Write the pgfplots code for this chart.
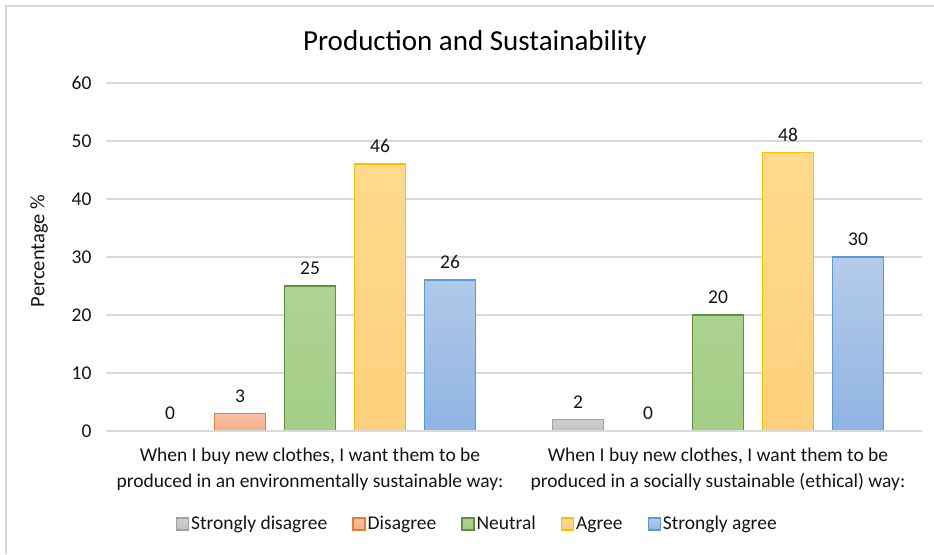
\documentclass[border=0pt]{standalone}
\usepackage{pgfplots}
\pgfplotsset{compat=1.18}
\usepackage{fontspec}
\setmainfont{Carlito}

% series colours (fill top, fill bottom, edge)
\definecolor{sdTop}{HTML}{D0D0D0}\definecolor{sdBot}{HTML}{C0C0C0}\definecolor{sdEdge}{HTML}{A0A0A0}
\definecolor{dTop}{HTML}{F8C3A6}\definecolor{dBot}{HTML}{F3AC8A}\definecolor{dEdge}{HTML}{ED7D31}
\definecolor{nTop}{HTML}{ADD491}\definecolor{nBot}{HTML}{A4CD87}\definecolor{nEdge}{HTML}{5E9140}
\definecolor{aTop}{HTML}{FFDA8E}\definecolor{aBot}{HTML}{FDD17C}\definecolor{aEdge}{HTML}{FFC000}
\definecolor{saTop}{HTML}{B5CCE9}\definecolor{saBot}{HTML}{8FB4E2}\definecolor{saEdge}{HTML}{5B9BD5}
\definecolor{gridgray}{HTML}{D9D9D9}
\definecolor{txt}{HTML}{141414}

\newcommand{\lblfont}{\fontsize{19.5}{26}\selectfont}

\begin{document}
\begin{tikzpicture}[x=1pt,y=1pt]
\useasboundingbox (0,0) rectangle (934,554);
% chart frame (top and left edges)
\draw[gridgray, line width=1.6pt] (6,0) -- (6,548) -- (934,548);

\begin{axis}[
  at={(106pt,123pt)}, anchor=south west,
  scale only axis, width=816pt, height=348pt,
  xmin=-0.5, xmax=1.5, ymin=0, ymax=60,
  ybar=19pt, bar width=51pt,
  xtick={0,1},
  xticklabels={{When I buy new clothes, I want them to be\\produced in an environmentally sustainable way:},
               {When I buy new clothes, I want them to be\\produced in a socially sustainable (ethical) way:}},
  xticklabel style={align=center, font=\lblfont, text=txt, yshift=-13pt},
  ytick={0,10,...,60},
  yticklabel style={font=\lblfont, text=txt, xshift=-11pt},
  /pgf/number format/assume math mode=true,
  major tick length=0pt,
  axis line style={draw=none},
  ymajorgrids, grid style={gridgray, line width=1.3pt},
  ylabel={Percentage \%},
  ylabel style={font=\fontsize{20.5}{24}\selectfont, text=txt, at={(axis description cs:-0.082,0.517)}, anchor=center},
  title={Production and Sustainability},
  title style={font=\fontsize{29}{32}\selectfont, text=black, at={(axis description cs:0.452,1.098)}, anchor=center},
  nodes near coords,
  every node near coord/.append style={font=\lblfont, text=txt, yshift=7pt},
  legend columns=5,
  legend style={draw=none, fill=none, font=\lblfont, text=txt,
    at={(axis description cs:0.455,-0.267)}, anchor=center,
    /tikz/every even column/.append style={column sep=23pt},
    nodes={inner xsep=2pt}},
  legend image code/.code={\draw[#1, line width=1.3pt] (0pt,-6pt) rectangle (12pt,6pt);},
  legend cell align=left,
]
\addplot[draw=sdEdge, line width=1.7pt, top color=sdTop, bottom color=sdBot] coordinates {(0,0) (1,2)};
\addplot[draw=dEdge, line width=1.7pt, top color=dTop, bottom color=dBot] coordinates {(0,3) (1,0)};
\addplot[draw=nEdge, line width=1.7pt, top color=nTop, bottom color=nBot] coordinates {(0,25) (1,20)};
\addplot[draw=aEdge, line width=1.7pt, top color=aTop, bottom color=aBot] coordinates {(0,46) (1,48)};
\addplot[draw=saEdge, line width=1.7pt, top color=saTop, bottom color=saBot] coordinates {(0,26) (1,30)};
\legend{Strongly disagree, Disagree, Neutral, Agree, Strongly agree}
% baseline drawn over the feet of the bars
\draw[gridgray, line width=1.9pt] (rel axis cs:0,0) -- (rel axis cs:1,0);
\end{axis}
\end{tikzpicture}
\end{document}
